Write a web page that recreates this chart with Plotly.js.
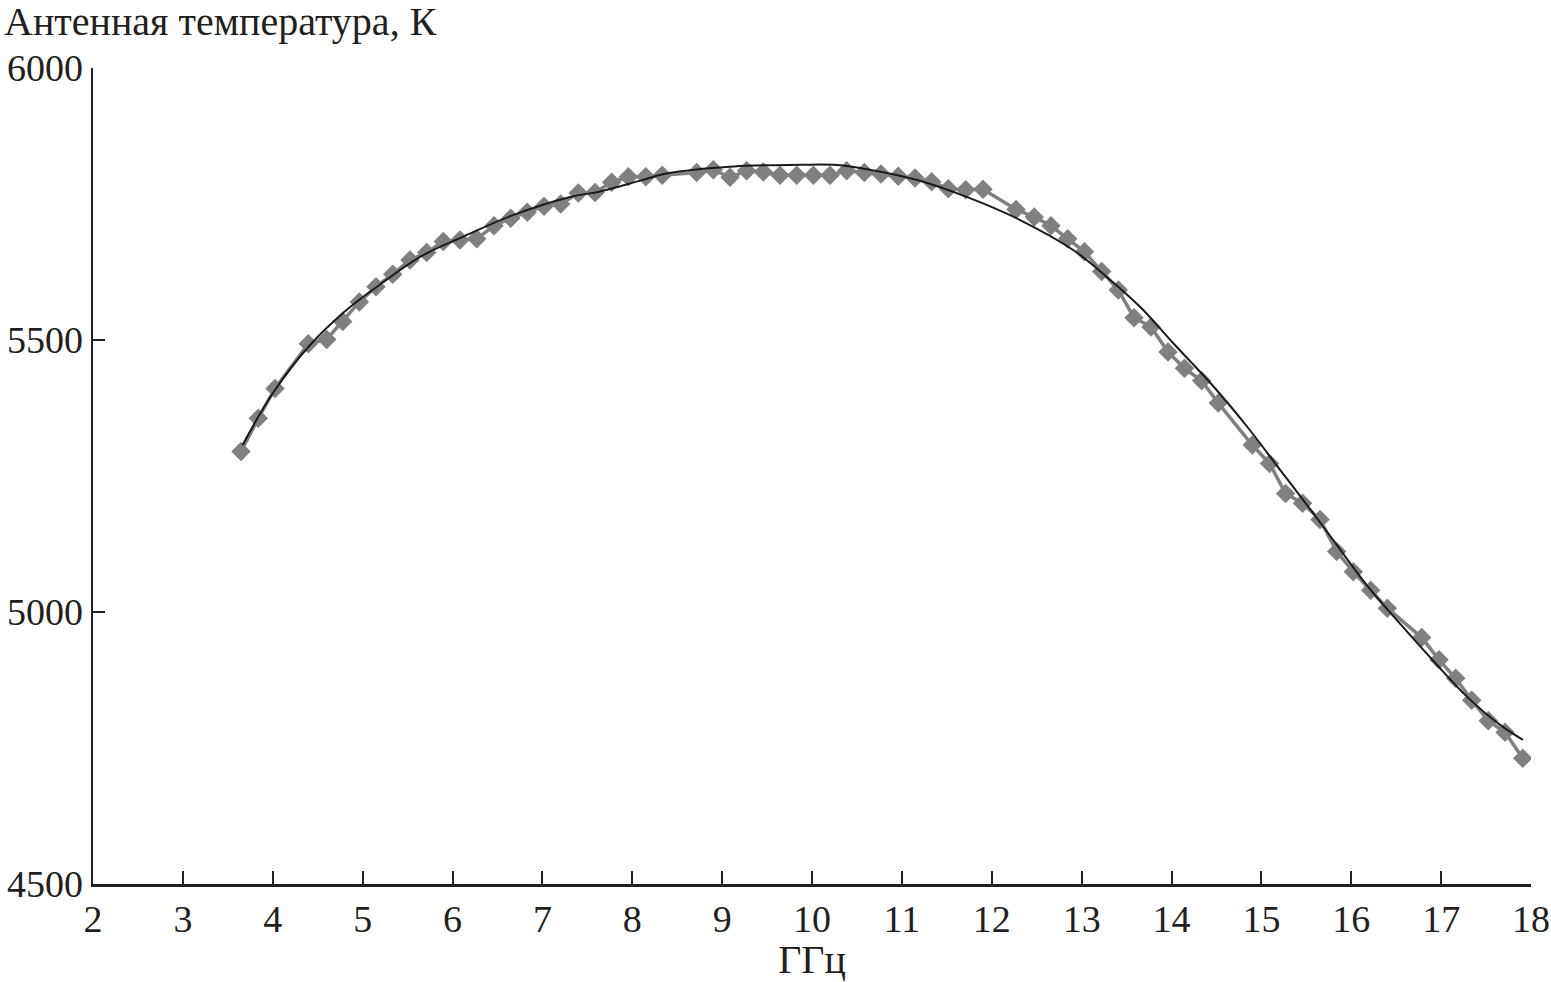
<!DOCTYPE html>
<html>
<head>
<meta charset="utf-8">
<script src="https://cdn.plot.ly/plotly-3.0.1.min.js"></script>
<style>html,body{margin:0;padding:0;background:#fff;}#chart{width:1551px;height:982px;}</style>
</head>
<body>
<div id="chart"></div>
<script>
// Measured antenna temperature (grey diamonds)
const measFreq = [3.647,3.839,4.025,4.396,4.600,4.778,4.963,5.149,5.335,5.527,5.713,5.898,6.083,6.269,6.462,6.648,6.832,7.018,7.204,7.400,7.586,7.771,7.956,8.150,8.334,8.717,8.902,9.088,9.273,9.458,9.644,9.830,10.015,10.200,10.386,10.582,10.768,10.960,11.146,11.332,11.517,11.710,11.903,12.270,12.473,12.659,12.845,13.032,13.223,13.408,13.583,13.772,13.961,14.145,14.336,14.521,14.899,15.091,15.269,15.458,15.652,15.838,16.023,16.216,16.401,16.784,16.977,17.162,17.340,17.525,17.711,17.908];
const measTemp = [5295,5356,5411,5493,5501,5534,5570,5598,5621,5647,5661,5681,5684,5686,5710,5724,5735,5746,5750,5770,5771,5790,5800,5800,5803,5808,5813,5799,5811,5809,5803,5803,5803,5803,5811,5808,5805,5801,5798,5791,5778,5776,5777,5740,5726,5710,5686,5662,5626,5592,5541,5524,5478,5448,5425,5384,5307,5273,5218,5200,5170,5111,5074,5040,5007,4953,4912,4878,4838,4800,4779,4731];
// Approximating curve (black line)
const fitFreq = [3.665,4.0,4.4,4.82,5.16,5.64,6.12,6.68,7.31,7.64,8.09,8.38,9.13,9.87,10.24,10.61,11.17,11.72,12.31,12.91,13.28,13.65,14.02,14.47,14.84,15.21,15.58,15.80,16.17,16.54,16.92,17.29,17.66,17.91];
const fitTemp = [5307,5402,5488,5555,5598,5653,5690,5730,5763,5773,5793,5806,5819,5822,5822,5814,5794,5763,5721,5665,5616,5561,5494,5414,5341,5261,5181,5132,5050,4979,4909,4844,4792,4765];
const xTicks = [2,3,4,5,6,7,8,9,10,11,12,13,14,15,16,17,18];
const yTicks = [4500,5000,5500,6000];
const yTitle = 'Антенная температура, К';
const xTitle = 'ГГц';

const txt = '#231f20';
const fontFam = 'Liberation Serif';

const traces = [
  {
    x: measFreq, y: measTemp, type: 'scatter', mode: 'lines+markers',
    line: {color: '#808083', width: 3.5},
    marker: {symbol: 'diamond', size: 15, color: '#808083'},
    hoverinfo: 'x+y'
  },
  {
    x: fitFreq, y: fitTemp, type: 'scatter', mode: 'lines',
    line: {color: '#1a1a1a', width: 2, shape: 'spline', smoothing: 1},
    hoverinfo: 'x+y'
  }
];

const layout = {
  width: 1551, height: 982,
  margin: {l: 93, r: 20, t: 68, b: 98},
  paper_bgcolor: '#fff', plot_bgcolor: '#fff',
  showlegend: false,
  font: {family: fontFam, size: 38, color: txt},
  xaxis: {
    range: [2, 18], tickvals: xTicks, ticktext: xTicks.map(String),
    showgrid: false, zeroline: false,
    showline: true, linecolor: txt, linewidth: 2.5,
    ticks: 'inside', ticklen: 13, tickwidth: 2, tickcolor: txt,
    tickfont: {family: fontFam, size: 38, color: txt},
    title: {text: xTitle, font: {family: fontFam, size: 40, color: txt}, standoff: 4}
  },
  yaxis: {
    range: [4500, 6000], tickvals: yTicks, ticktext: yTicks.map(String),
    showgrid: false, zeroline: false,
    showline: true, linecolor: txt, linewidth: 2.5,
    ticks: 'inside', ticklen: 12, tickwidth: 2, tickcolor: txt,
    tickfont: {family: fontFam, size: 38, color: txt}
  },
  annotations: [{
    text: yTitle, xref: 'paper', yref: 'paper',
    x: -0.0635, y: 1.0564, xanchor: 'left', yanchor: 'middle',
    showarrow: false, font: {family: fontFam, size: 40, color: txt}
  }]
};

Plotly.newPlot('chart', traces, layout, {displayModeBar: false, staticPlot: true});
</script>
</body>
</html>
